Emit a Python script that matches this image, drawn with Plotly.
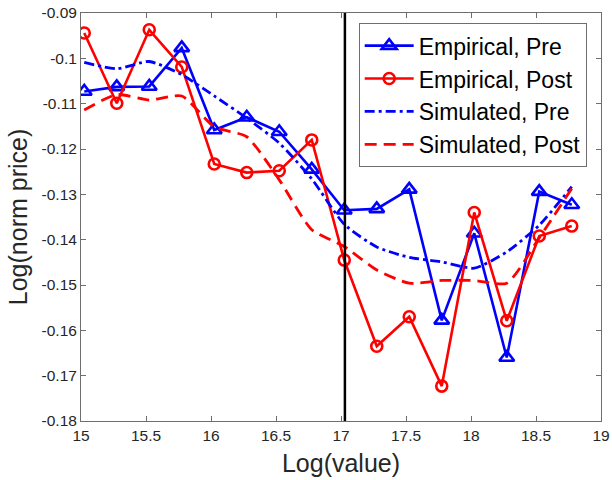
import plotly.graph_objects as go

# x positions of bins (log value)
x_bins = [15.025, 15.275, 15.525, 15.775, 16.025, 16.275, 16.525, 16.775,
          17.025, 17.275, 17.525, 17.775, 18.025, 18.275, 18.525, 18.775]

emp_pre = [-0.1073, -0.1063, -0.1062, -0.0977, -0.1158, -0.1130, -0.1162, -0.1245,
           -0.1335, -0.1332, -0.1289, -0.1578, -0.1386, -0.1660, -0.1294, -0.1323]

emp_post = [-0.0944, -0.1099, -0.0937, -0.1019, -0.1233, -0.1252, -0.1248, -0.1180,
            -0.1445, -0.1635, -0.1570, -0.1723, -0.1340, -0.1579, -0.1392, -0.1370]

sim_pre = [-0.1009, -0.1023, -0.1007, -0.1036, -0.1083, -0.1132, -0.1187, -0.1266,
           -0.1366, -0.1416, -0.1439, -0.1449, -0.1463, -0.1427, -0.1368, -0.1283]

sim_post = [-0.1114, -0.1080, -0.1092, -0.1083, -0.1151, -0.1173, -0.1268, -0.1378,
            -0.1415, -0.1467, -0.1496, -0.1490, -0.1490, -0.1496, -0.1396, -0.1287]

threshold_x = 17.03

x_ticks = [15, 15.5, 16, 16.5, 17, 17.5, 18, 18.5, 19]
y_ticks = [-0.18, -0.17, -0.16, -0.15, -0.14, -0.13, -0.12, -0.11, -0.10, -0.09]
y_tick_text = ["-0.18", "-0.17", "-0.16", "-0.15", "-0.14", "-0.13", "-0.12", "-0.11", "-0.1", "-0.09"]

BLUE = "#0000FF"
RED = "#FF0000"
FONT = "Liberation Sans, Arial, sans-serif"

fig = go.Figure()

fig.add_trace(go.Scatter(
    x=x_bins, y=emp_pre, mode="lines+markers", name="Empirical, Pre",
    line=dict(color=BLUE, width=2.6),
    marker=dict(symbol="triangle-up-open", size=13, color=BLUE, line=dict(width=2.6, color=BLUE)),
))
fig.add_trace(go.Scatter(
    x=x_bins, y=emp_post, mode="lines+markers", name="Empirical, Post",
    line=dict(color=RED, width=2.6),
    marker=dict(symbol="circle-open", size=11, color=RED, line=dict(width=2.6, color=RED)),
))
fig.add_trace(go.Scatter(
    x=x_bins, y=sim_pre, mode="lines", name="Simulated, Pre",
    line=dict(color=BLUE, width=2.8, dash="10px,4px,3px,4px", shape="spline", smoothing=0.6),
))
fig.add_trace(go.Scatter(
    x=x_bins, y=sim_post, mode="lines", name="Simulated, Post",
    line=dict(color=RED, width=2.8, dash="12px,7px", shape="spline", smoothing=0.6),
))

fig.add_shape(type="line", xref="x", yref="y", x0=threshold_x, x1=threshold_x,
              y0=-0.18, y1=-0.09, line=dict(color="black", width=2.5), layer="above")

axis_common = dict(
    showgrid=False, zeroline=False, showline=True, linecolor="#6e6e6e", linewidth=1,
    mirror="allticks", ticks="inside", ticklen=5, tickwidth=1, tickcolor="#6e6e6e",
    tickfont=dict(family=FONT, size=15.5, color="#262626"), automargin=False,
)

fig.update_layout(
    width=612, height=480,
    margin=dict(l=81, r=11, t=13, b=59, autoexpand=False),
    paper_bgcolor="white", plot_bgcolor="white",
    font=dict(family=FONT, color="#262626"),
    xaxis=dict(range=[15, 19], tickvals=x_ticks, ticktext=[str(v) for v in x_ticks],
               title=dict(text="Log(value)", font=dict(family=FONT, size=25, color="#262626"), standoff=11),
               **axis_common),
    yaxis=dict(range=[-0.18, -0.09], tickvals=y_ticks, ticktext=y_tick_text,
               title=dict(text="Log(norm price)", font=dict(family=FONT, size=25, color="#262626"), standoff=6),
               **axis_common),
    legend=dict(x=0.534, y=0.975, xanchor="left", yanchor="top",
                bgcolor="white", bordercolor="#6e6e6e", borderwidth=1,
                font=dict(family=FONT, size=23, color="#000000"),
                tracegroupgap=0, itemwidth=49),
    showlegend=True,
)

fig.write_html("out.html")
